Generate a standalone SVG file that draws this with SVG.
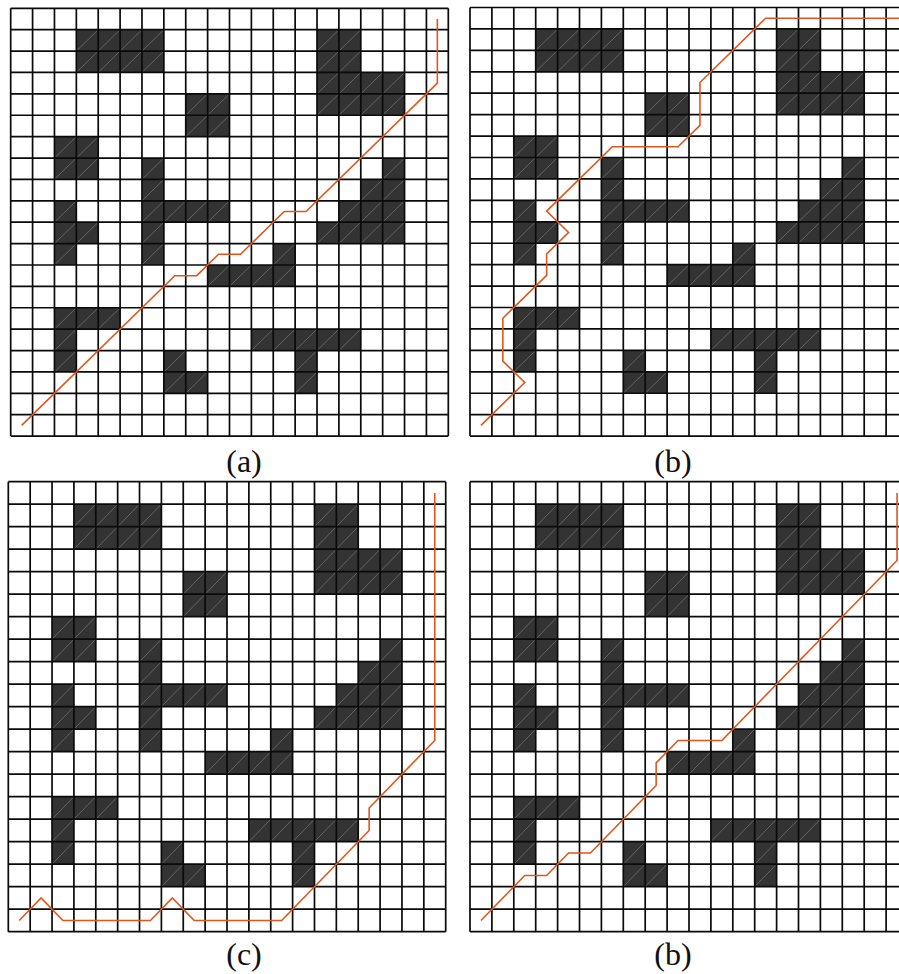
<svg xmlns="http://www.w3.org/2000/svg" xmlns:xlink="http://www.w3.org/1999/xlink" width="899" height="974" viewBox="0 0 899 974">
<style>
.obs{fill:#333333;stroke:none}
.dg{fill:none;stroke:#7a7a7a;stroke-width:0.7;vector-effect:non-scaling-stroke}
.gl{fill:none;stroke:#0a0a0a;stroke-width:1.7;vector-effect:non-scaling-stroke}
.rt{fill:none;stroke:#e0561b;stroke-width:1.6;stroke-linejoin:miter;vector-effect:non-scaling-stroke}
.lbl{font-family:"Liberation Serif","Times New Roman",serif;font-size:32px;fill:#111;text-anchor:middle}
</style>
<defs>
<g id="obstacles">
<path class="obs" d="M3 1h4v2h-4zM14 1h2v2h-2zM14 3h4v2h-4zM8 4h2v2h-2zM2 6h2v2h-2zM6 7h1v5h-1zM17 7h1v1h-1zM16 8h2v1h-2zM2 9h1v3h-1zM7 9h3v1h-3zM15 9h3v1h-3zM3 10h1v1h-1zM14 10h4v1h-4zM12 11h1v1h-1zM9 12h4v1h-4zM2 14h3v1h-3zM2 15h1v2h-1zM11 15h5v1h-5zM13 16h1v2h-1zM7 16h1v1h-1zM7 17h2v1h-2z"/>
<path class="dg" d="M3 2l1-1m0 1l1-1m0 1l1-1m0 1l1-1M14 2l1-1m0 1l1-1M3 3l1-1m0 1l1-1m0 1l1-1m0 1l1-1M14 3l1-1m0 1l1-1M14 4l1-1m0 1l1-1m0 1l1-1m0 1l1-1M8 5l1-1m0 1l1-1M14 5l1-1m0 1l1-1m0 1l1-1m0 1l1-1M8 6l1-1m0 1l1-1M2 7l1-1m0 1l1-1M2 8l1-1m0 1l1-1M6 8l1-1M17 8l1-1M6 9l1-1M16 9l1-1m0 1l1-1M2 10l1-1M6 10l1-1m0 1l1-1m0 1l1-1m0 1l1-1M15 10l1-1m0 1l1-1m0 1l1-1M2 11l1-1m0 1l1-1M6 11l1-1M14 11l1-1m0 1l1-1m0 1l1-1m0 1l1-1M2 12l1-1M6 12l1-1M12 12l1-1M9 13l1-1m0 1l1-1m0 1l1-1m0 1l1-1M2 15l1-1m0 1l1-1m0 1l1-1M2 16l1-1M11 16l1-1m0 1l1-1m0 1l1-1m0 1l1-1m0 1l1-1M2 17l1-1M7 17l1-1M13 17l1-1M7 18l1-1m0 1l1-1M13 18l1-1"/>
</g>
<path id="gridlines" class="gl" d="M0 0V20M1 0V20M2 0V20M3 0V20M4 0V20M5 0V20M6 0V20M7 0V20M8 0V20M9 0V20M10 0V20M11 0V20M12 0V20M13 0V20M14 0V20M15 0V20M16 0V20M17 0V20M18 0V20M19 0V20M20 0V20M0 0H20M0 1H20M0 2H20M0 3H20M0 4H20M0 5H20M0 6H20M0 7H20M0 8H20M0 9H20M0 10H20M0 11H20M0 12H20M0 13H20M0 14H20M0 15H20M0 16H20M0 17H20M0 18H20M0 19H20M0 20H20"/>
</defs>
<rect width="899" height="974" fill="#ffffff"/>
<g id="grid-a" transform="translate(10.7 8.3) scale(21.88 21.39)">
<use href="#obstacles"/>
<use href="#gridlines"/>
<polyline class="rt" points="19.5,0.5 19.5,3.5 13.5,9.5 12.5,9.5 10.5,11.5 9.5,11.5 8.5,12.5 7.5,12.5 0.5,19.5"/>
</g>
<g id="grid-b" transform="translate(470 7.5) scale(21.9 21.43)">
<use href="#obstacles"/>
<use href="#gridlines"/>
<polyline class="rt" points="19.6,0.5 13.5,0.5 10.5,3.5 10.5,5.5 9.5,6.5 6.5,6.5 3.5,9.5 4.5,10.5 3.5,11.5 3.5,12.5 1.5,14.5 1.5,16.5 2.5,17.5 0.5,19.5"/>
</g>
<g id="grid-c" transform="translate(8.3 481.7) scale(21.87 22.5)">
<use href="#obstacles"/>
<use href="#gridlines"/>
<polyline class="rt" points="19.5,0.5 19.5,11.5 16.5,14.5 16.5,15.5 12.5,19.5 8.5,19.5 7.5,18.5 6.5,19.5 2.5,19.5 1.5,18.5 0.5,19.5"/>
</g>
<g id="grid-d" transform="translate(470 481.7) scale(21.9 22.5)">
<use href="#obstacles"/>
<use href="#gridlines"/>
<polyline class="rt" points="19.5,0.5 19.5,3.5 11.5,11.5 9.5,11.5 8.5,12.5 8.5,13.5 5.5,16.5 4.5,16.5 3.5,17.5 2.5,17.5 0.5,19.5"/>
</g>
<g id="labels">
<text class="lbl" x="244" y="472">(a)</text>
<text class="lbl" x="673" y="472">(b)</text>
<text class="lbl" x="244" y="965">(c)</text>
<text class="lbl" x="673" y="965">(b)</text>
</g>
</svg>
